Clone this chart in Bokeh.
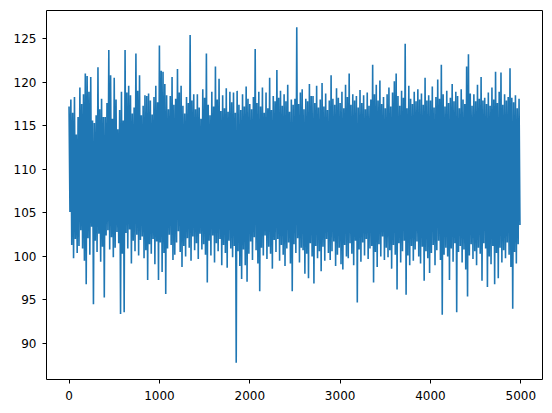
from bokeh.plotting import figure
from bokeh.models import Range1d, FixedTicker
from bokeh.embed import file_html
from bokeh.resources import INLINE

# Series values (one value every 10 samples, alternating upper/lower excursions)
values = [
    117.2, 105.1, 118.0, 101.3, 116.5, 99.8, 118.3, 102.0, 114.0, 100.4,
    116.0, 101.2, 119.4, 103.0, 117.5, 100.9, 118.6, 99.5, 121.0, 96.8,
    120.7, 102.1, 118.9, 100.2, 120.6, 103.4, 115.6, 94.5, 115.3, 101.8,
    116.2, 100.5, 121.7, 102.6, 116.9, 99.4, 118.1, 101.1, 116.0, 95.3,
    116.0, 102.4, 117.6, 103.0, 123.7, 100.8, 120.8, 102.2, 115.8, 99.9,
    120.5, 101.0, 118.0, 102.8, 114.6, 101.5, 116.8, 93.4, 118.9, 100.3,
    115.6, 93.6, 123.7, 102.7, 118.8, 100.9, 119.6, 103.1, 118.5, 99.2,
    116.4, 101.8, 117.1, 100.6, 123.3, 102.5, 119.0, 100.1, 120.8, 101.9,
    116.2, 102.3, 117.3, 99.8, 118.5, 100.7, 118.4, 97.3, 118.7, 101.4,
    117.9, 100.3, 116.3, 102.0, 118.3, 99.1, 119.6, 101.7, 117.7, 97.3,
    124.2, 101.6, 121.3, 98.2, 121.2, 100.4, 119.8, 95.7, 118.5, 100.9,
    116.9, 102.5, 118.4, 101.3, 120.6, 99.6, 117.4, 100.2, 118.1, 101.6,
    121.5, 102.9, 118.8, 100.5, 119.6, 98.8, 117.3, 101.2, 116.4, 100.0,
    118.3, 102.1, 117.6, 101.0, 125.4, 99.5, 117.9, 102.3, 118.6, 100.7,
    116.9, 101.5, 118.6, 99.7, 117.1, 102.6, 115.8, 100.8, 119.2, 101.4,
    118.2, 100.2, 123.3, 97.0, 117.4, 101.8, 116.2, 100.1, 118.9, 102.4,
    117.2, 99.3, 121.8, 101.5, 118.0, 100.6, 120.4, 102.0, 116.7, 99.0,
    118.5, 101.3, 117.0, 100.4, 119.3, 98.7, 116.6, 101.8, 118.9, 100.9,
    117.7, 99.9, 118.8, 101.2, 116.5, 87.8, 119.0, 100.6, 117.4, 98.9,
    116.8, 97.4, 118.6, 100.8, 117.2, 99.0, 119.5, 97.1, 118.1, 100.3,
    117.5, 101.7, 116.9, 99.6, 118.3, 102.2, 123.8, 100.7, 117.6, 99.2,
    118.9, 96.0, 117.2, 101.0, 119.4, 100.1, 116.5, 102.4, 118.8, 99.7,
    117.0, 101.1, 120.5, 100.3, 116.8, 98.6, 118.4, 101.9, 117.8, 100.5,
    121.4, 102.0, 118.2, 99.5, 119.0, 101.3, 117.3, 100.2, 118.6, 98.9,
    117.8, 100.9, 119.7, 101.6, 116.6, 99.2, 118.0, 96.0, 117.4, 101.4,
    118.1, 100.4, 126.3, 102.1, 117.5, 99.3, 118.8, 101.0, 119.2, 100.7,
    116.9, 98.0, 118.1, 100.3, 117.8, 97.5, 119.8, 101.5, 118.4, 100.0,
    118.4, 96.9, 117.6, 101.2, 119.6, 99.8, 117.1, 100.6, 118.0, 98.3,
    119.9, 101.1, 117.2, 99.5, 118.7, 102.0, 116.8, 100.4, 117.9, 99.6,
    120.8, 100.6, 118.1, 101.7, 117.4, 98.9, 119.3, 100.2, 118.2, 101.0,
    117.6, 99.1, 118.9, 98.5, 117.0, 101.3, 119.7, 100.0, 118.3, 99.8,
    121.0, 101.5, 117.4, 100.3, 118.6, 99.0, 117.9, 101.8, 118.4, 94.7,
    117.1, 100.8, 119.1, 99.4, 117.6, 101.6, 118.5, 100.1, 116.9, 102.0,
    118.8, 99.7, 117.3, 100.9, 118.0, 101.2, 122.0, 97.0, 118.6, 100.5,
    119.7, 98.8, 117.9, 101.4, 120.2, 100.0, 117.5, 102.3, 118.3, 99.6,
    117.0, 101.0, 118.6, 99.9, 119.4, 100.7, 117.2, 98.6, 118.8, 101.3,
    120.1, 100.2, 121.0, 96.2, 118.4, 101.5, 117.3, 99.3, 119.0, 100.6,
    118.2, 101.8, 124.4, 95.6, 117.0, 100.1, 119.6, 99.0, 118.1, 101.2,
    117.5, 99.5, 118.9, 100.8, 117.8, 101.7, 119.2, 100.0, 118.0, 99.2,
    118.7, 101.1, 117.4, 97.2, 120.5, 100.6, 117.9, 99.8, 118.5, 98.1,
    117.9, 100.4, 119.5, 101.3, 117.1, 99.0, 118.3, 100.7, 120.3, 101.8,
    118.1, 99.6, 122.0, 93.3, 118.6, 100.2, 117.2, 101.0, 119.0, 100.0,
    117.6, 97.3, 118.2, 100.9, 119.8, 99.4, 117.8, 101.5, 118.9, 93.6,
    118.4, 100.5, 117.0, 101.2, 119.2, 99.3, 118.0, 100.8, 117.5, 98.5,
    121.8, 95.4, 123.2, 100.1, 118.7, 101.4, 117.3, 99.7, 118.6, 100.6,
    117.8, 99.0, 119.7, 101.0, 118.1, 100.3, 120.6, 97.2, 117.9, 101.5,
    118.2, 100.9, 117.5, 96.5, 118.8, 100.0, 117.3, 99.1, 119.4, 101.2,
    118.0, 96.8, 121.2, 100.4, 117.6, 97.5, 118.9, 101.0, 121.1, 99.3,
    117.4, 100.7, 118.6, 99.8, 117.9, 101.6, 118.3, 100.2, 121.6, 98.8,
    118.2, 94.0, 117.7, 100.5, 118.5, 99.2, 117.0, 101.4, 118.1, 103.6,
]
sample_step = 10
index = [i * sample_step for i in range(len(values))]

x_ticks = [0, 1000, 2000, 3000, 4000, 5000]
y_ticks = [90, 95, 100, 105, 110, 115, 120, 125]

n_last = (len(values) - 1) * sample_step
xpad = 0.05 * n_last
ymin, ymax = min(values), max(values)
ypad = 0.05 * (ymax - ymin)

p = figure(width=544, height=405, output_backend="svg", toolbar_location=None,
           x_range=Range1d(-xpad, n_last + xpad), y_range=Range1d(ymin - ypad, ymax + ypad),
           min_border_left=46, min_border_right=2, min_border_top=10, min_border_bottom=26)
p.background_fill_color = "white"
p.border_fill_color = "white"
p.outline_line_color = "black"
p.outline_line_width = 1
p.grid.visible = False

p.line(index, values, line_color="#1f77b4", line_width=1.6)

for ax, ticks in ((p.xaxis, x_ticks), (p.yaxis, y_ticks)):
    ax.ticker = FixedTicker(ticks=ticks)
    ax.axis_line_color = None
    ax.major_tick_line_color = "black"
    ax.major_tick_line_width = 1
    ax.major_tick_out = 4
    ax.major_tick_in = 0
    ax.minor_tick_line_color = None
    ax.major_label_text_font = "DejaVu Sans"
    ax.major_label_text_font_size = "12px"
    ax.major_label_text_color = "black"
p.xaxis.major_label_standoff = 7
p.yaxis.major_label_standoff = 6

open("out.html", "w").write(file_html(p, INLINE))
